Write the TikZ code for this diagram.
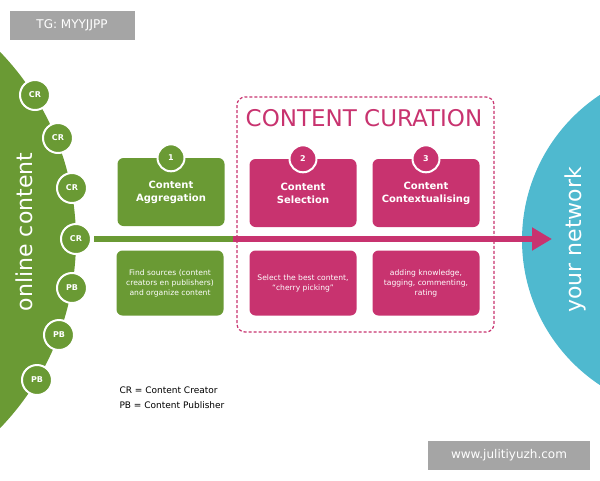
\documentclass[tikz,border=0pt]{standalone}
\usepackage{fontspec}
\setmainfont{DejaVu Sans}
\usepackage{tikz}
\usetikzlibrary{shapes, arrows, calc, positioning, backgrounds, fit}
\usetikzlibrary{arrows.meta}
\definecolor{leafgreen}{HTML}{6A9A34}
\definecolor{curpink}{HTML}{C8336F}
\definecolor{netblue}{HTML}{4FB9CF}
\definecolor{markgray}{HTML}{A5A5A5}

\begin{document}
\begin{tikzpicture}[
  x=1pt, y=-1pt,
  every node/.style={align=center},
  source/.style={circle, draw=white, line width=2pt, fill=leafgreen, text=white, minimum size=30pt, inner sep=0pt, font=\fontsize{8}{9}\selectfont\bfseries},
  stage/.style={rectangle, rounded corners=6pt, text=white, minimum width=107pt, minimum height=68pt, font=\fontsize{10}{13}\selectfont\bfseries},
  note/.style={rectangle, rounded corners=6pt, text=white, minimum width=107pt, minimum height=65pt, font=\fontsize{7.6}{10}\selectfont},
  number/.style={circle, draw=white, line width=2pt, text=white, minimum size=27pt, inner sep=0pt, font=\fontsize{8}{9}\selectfont\bfseries},
  watermark/.style={rectangle, fill=markgray, text=white, inner sep=0pt, font=\fontsize{12}{14}\selectfont}
]
\useasboundingbox (0,0) rectangle (600,480);

% the two worlds
\begin{scope}
  \clip (0,0) rectangle (600,480);
  \fill[leafgreen] (-195,240) circle (271);
  \fill[netblue] (696,240) circle (174);
\end{scope}
\node[rotate=90, text=white, font=\fontsize{22}{24}\selectfont] (online) at (24,232) {online content};
\node[rotate=90, text=white, font=\fontsize{22}{24}\selectfont] (network) at (575,240) {your network};

% sources on the edge
\foreach \name/\lab/\px/\py in {s1/CR/35/95, s2/CR/58/138, s3/CR/72/188, s4/CR/76/239, s5/PB/72/288, s6/PB/59/335, s7/PB/37/380}
  \node[source] (\name) at (\px,\py) {\lab};

% curation frame
\draw[curpink, dash pattern=on 3pt off 2pt, line width=1.2pt, rounded corners=8pt] (237,97) rectangle (494,332);
\node[text=curpink, font=\fontsize{23}{26}\selectfont] (curation) at (364,118) {CONTENT CURATION};

% stages
\node[stage, fill=leafgreen] (aggr) at (171,192) {Content\\Aggregation};
\node[stage, fill=curpink] (sel) at (303,193) {Content\\Selection};
\node[stage, fill=curpink] (ctx) at (426,193) {Content\\Contextualising};
\node[number, fill=leafgreen] (n1) at (aggr.north) {1};
\node[number, fill=curpink] (n2) at (sel.north) {2};
\node[number, fill=curpink] (n3) at (ctx.north) {3};

\node[note, fill=leafgreen] (aggrnote) at (170,283) {Find sources (content\\creators en publishers)\\and organize content};
\node[note, fill=curpink] (selnote) at (303,283) {Select the best content,\\``cherry picking''};
\node[note, fill=curpink] (ctxnote) at (426,283) {adding knowledge,\\tagging, commenting,\\rating};

% flow
\coordinate (mid) at (233,239);
\coordinate (tip) at (552,239);
\draw[leafgreen, line width=6pt] (s4.east) ++(2,0) -- (mid);
\draw[curpink, line width=6pt, -{Triangle[length=20pt, width=22pt]}] (mid) -- (tip);

% legend
\node[anchor=west, font=\fontsize{9}{11}\selectfont] (legcr) at (116,390) {CR = Content Creator};
\node[anchor=west, font=\fontsize{9}{11}\selectfont] (legpb) at (116,405) {PB = Content Publisher};

% watermarks
\node[watermark, minimum width=125pt, minimum height=29pt] (tg) at (72,25) {TG: MYYJJPP};
\node[watermark, minimum width=162pt, minimum height=29pt] (www) at (509,455) {www.julitiyuzh.com};
\end{tikzpicture}
\end{document}
